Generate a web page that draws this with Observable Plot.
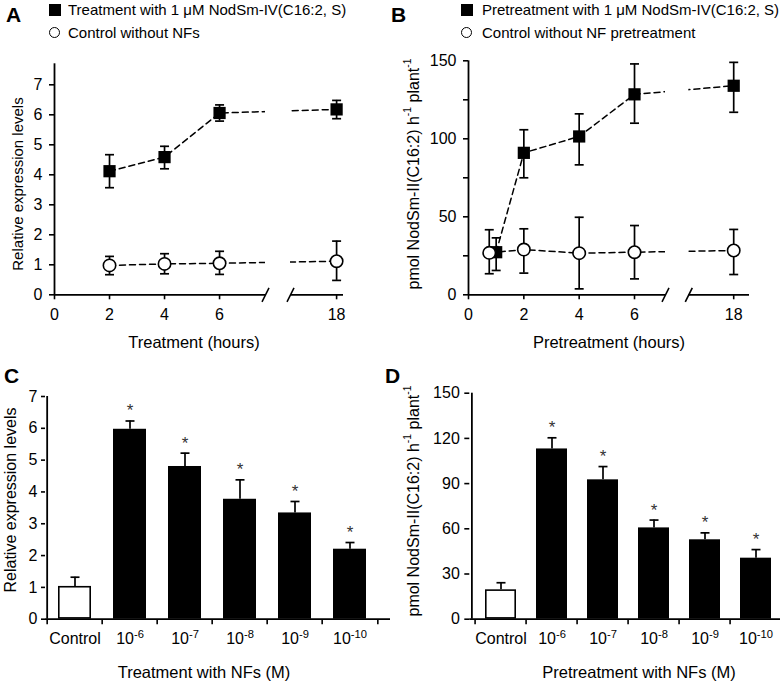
<!DOCTYPE html>
<html><head><meta charset="utf-8">
<script src="https://cdn.jsdelivr.net/npm/d3@7"></script>
<script src="https://cdn.jsdelivr.net/npm/@observablehq/plot@0.6"></script>
<style>
body{margin:0;background:#fff;font-family:"Liberation Sans",Arial,sans-serif;color:#000;}
#fig{position:relative;width:780px;height:684px;overflow:hidden;background:#fff;}
.panel{position:absolute;}
.letter{position:absolute;font-weight:bold;font-size:21px;line-height:21px;}
.legtxt{position:absolute;font-size:15px;line-height:16px;white-space:nowrap;}
.sq{position:absolute;width:12px;height:12px;background:#000;}
.ci{position:absolute;width:9px;height:9px;border:1.6px solid #000;border-radius:50%;background:#fff;}
.title{position:absolute;font-size:16.5px;line-height:18px;white-space:nowrap;transform:translate(-50%,-50%);}
.ytitle{position:absolute;font-size:16px;line-height:18px;white-space:nowrap;transform:translate(-50%,-50%) rotate(-90deg);}
.ytitle sup{font-size:0.65em;position:relative;top:-0.2em;vertical-align:super;line-height:0;}
</style>
</head><body>
<div id="fig"></div>
<script>
// ---------- Panel A data (treatment time course, relative expression) ----------
const hoursA      = [2, 4, 6, 18];
const treatA      = [4.12, 4.59, 6.06, 6.18];
const treatA_lo   = [3.57, 4.20, 5.79, 5.87];
const treatA_hi   = [4.67, 4.95, 6.33, 6.48];
const ctrlA       = [0.98, 1.03, 1.05, 1.12];
const ctrlA_lo    = [0.67, 0.70, 0.68, 0.48];
const ctrlA_hi    = [1.28, 1.37, 1.45, 1.79];
const ticksA_x    = [0, 2, 4, 6, 18];
const ticksA_y    = [0, 1, 2, 3, 4, 5, 6, 7];

// ---------- Panel B data (pretreatment time course, pmol) ----------
const hoursB_treat = [1, 2, 4, 6, 18];
const treatB       = [27.3, 91, 101.5, 128.5, 134];
const treatB_lo    = [15.6, 75, 83.3, 110, 117];
const treatB_hi    = [36.5, 105.8, 116, 148, 149];
const hoursB_ctrl  = [0.75, 2, 4, 6, 18];
const ctrlB        = [26.9, 29, 26.7, 27.3, 28.4];
const ctrlB_lo     = [13.5, 13.9, 3.8, 10.2, 13];
const ctrlB_hi     = [41.7, 42.3, 49.7, 44.4, 41.9];
const ticksB_x     = [0, 2, 4, 6, 18];
const ticksB_y     = [0, 25, 50, 75, 100, 125, 150];

// ---------- Panels C, D data (concentration series) ----------
const concLabels = ["Control", "10^-6", "10^-7", "10^-8", "10^-9", "10^-10"];
const signif     = [false, true, true, true, true, true];
const exprC      = [1.03, 5.97, 4.80, 3.77, 3.34, 2.20];
const exprC_hi   = [1.32, 6.23, 5.22, 4.38, 3.70, 2.41];
const pmolD      = [19.5, 113, 92.5, 60.6, 52.7, 40.5];
const pmolD_hi   = [24.2, 120.4, 101.3, 65.8, 57.3, 46.2];
const ticksC_y   = [0, 1, 2, 3, 4, 5, 6, 7];
const ticksD_y   = [0, 30, 60, 90, 120, 150];

// ---------- helpers ----------
const FONT = "Liberation Sans, Arial, sans-serif";
const LW = 1.7;
const capSym   = {draw(ctx){ ctx.moveTo(-4.5, 0); ctx.lineTo(4.5, 0); }};
const slashSym = {draw(ctx){ ctx.moveTo(-3.5, 7); ctx.lineTo(3.5, -7); }};
const downTick = {draw(ctx){ ctx.moveTo(0, 0); ctx.lineTo(0, 5); }};
const style = {background: "transparent", fontFamily: FONT, fontSize: "16px", color: "black", overflow: "visible"};
const fmt = d => String(d);

const rows = (xs, vs, lo, hi) => xs.map((x, i) => ({x, v: vs[i], lo: lo[i], hi: hi[i]}));

function supify(svg) {
  d3.select(svg).selectAll("text").each(function() {
    const t = this.textContent;
    const m = t.match(/^(.*)\^(.*)$/);
    if (!m) return;
    const s = d3.select(this);
    s.text(null);
    s.append("tspan").text(m[1]);
    s.append("tspan").attr("dy", "-0.5em").attr("font-size", "0.7em").text(m[2]);
  });
}

function timePanel(opts) {
  const {treat, ctrl, brk, xEnd, xRange, yMax, yTicks, yFmt, xTicks, height, mt, mb} = opts;
  return Plot.plot({
    width: 390, height, marginLeft: xRange[0], marginRight: 390 - xRange[3], marginTop: mt, marginBottom: mb,
    style,
    x: {type: "linear", domain: [0, brk[0], brk[1], xEnd], range: xRange, label: null},
    y: {domain: [0, yMax], label: null},
    marks: [
      Plot.line(treat, {x: "x", y: "v", stroke: "black", strokeWidth: 1.5, strokeDasharray: "6,4"}),
      Plot.line(ctrl, {x: "x", y: "v", stroke: "black", strokeWidth: 1.5, strokeDasharray: "6,4"}),
      Plot.rect([0], {x1: () => brk[0], x2: () => brk[1], y1: () => 0, y2: () => yMax, fill: "white"}),
      Plot.ruleY([0], {x1: () => 0, x2: () => brk[0], strokeWidth: 1.8}),
      Plot.ruleY([0], {x1: () => brk[1], x2: () => xEnd, strokeWidth: 1.8}),
      Plot.ruleX([0], {y1: () => 0, y2: () => yMax, strokeWidth: 1.8}),
      Plot.dot(brk, {x: d => d, y: () => 0, symbol: slashSym, stroke: "black", fill: "none", strokeWidth: 1.6}),
      Plot.ruleX(ctrl, {x: "x", y1: "lo", y2: "hi", strokeWidth: LW}),
      Plot.dot(ctrl, {x: "x", y: "hi", symbol: capSym, stroke: "black", fill: "none", strokeWidth: LW}),
      Plot.dot(ctrl, {x: "x", y: "lo", symbol: capSym, stroke: "black", fill: "none", strokeWidth: LW}),
      Plot.ruleX(treat, {x: "x", y1: "lo", y2: "hi", strokeWidth: LW}),
      Plot.dot(treat, {x: "x", y: "hi", symbol: capSym, stroke: "black", fill: "none", strokeWidth: LW}),
      Plot.dot(treat, {x: "x", y: "lo", symbol: capSym, stroke: "black", fill: "none", strokeWidth: LW}),
      Plot.dot(treat, {x: "x", y: "v", symbol: "square", r: 6.9, fill: "black", stroke: "none"}),
      Plot.dot(ctrl, {x: "x", y: "v", r: 6.2, fill: "white", stroke: "black", strokeWidth: 1.6}),
      Plot.axisY({ticks: yTicks, tickFormat: yFmt, tickSize: 5, tickPadding: 7, strokeWidth: 1.6, label: null}),
      Plot.axisX({ticks: xTicks, tickFormat: fmt, tickSize: 5, tickPadding: 9, strokeWidth: 1.6, label: null})
    ]
  });
}

function barPanel(opts) {
  const {vals, his, yMax, yTicks, ml, xRange, height, mt, mb, yTickSize, yTickPad} = opts;
  const data = concLabels.map((c, i) => ({c, v: vals[i], hi: his[i], s: signif[i]}));
  const step = (xRange[1] - xRange[0]) / concLabels.length;
  const axisOffset = -step / 2 - (xRange[0] - ml);
  return Plot.plot({
    width: 390, height, marginLeft: ml, marginRight: 0, marginTop: mt, marginBottom: mb,
    style,
    x: {type: "band", domain: concLabels, range: xRange, paddingInner: 0.4, paddingOuter: 0.2, label: null},
    y: {domain: [0, yMax], label: null},
    marks: [
      Plot.ruleX(data, {x: "c", y1: "v", y2: "hi", strokeWidth: LW}),
      Plot.dot(data, {x: "c", y: "hi", symbol: capSym, stroke: "black", fill: "none", strokeWidth: LW}),
      Plot.barY(data.filter(d => d.c === concLabels[0]), {x: "c", y: "v", fill: "white", stroke: "black", strokeWidth: 1.6, inset: 0.8}),
      Plot.barY(data.filter(d => d.c !== concLabels[0]), {x: "c", y: "v", fill: "black"}),
      Plot.text(data.filter(d => d.s), {x: "c", y: "hi", text: () => "*", dy: -10, fontSize: 17, fill: "#333"}),
      Plot.ruleY([0], {strokeWidth: 1.8}),
      Plot.ruleX([concLabels[0]], {x: d => d, dx: axisOffset, y1: () => 0, y2: () => yMax, strokeWidth: 1.8}),
      Plot.dot(concLabels, {x: d => d, y: () => 0, dx: -step / 2, symbol: downTick, stroke: "black", fill: "none", strokeWidth: 1.6}),
      Plot.dot([concLabels[concLabels.length - 1]], {x: d => d, y: () => 0, dx: step / 2, symbol: downTick, stroke: "black", fill: "none", strokeWidth: 1.6}),
      Plot.axisY({ticks: yTicks, tickFormat: fmt, tickSize: yTickSize, tickPadding: yTickPad, strokeWidth: 1.6, label: null}),
      Plot.axisX({tickSize: 0, tickPadding: 13, label: null})
    ]
  });
}

const fig = document.getElementById("fig");
function place(el, left, top) {
  el.classList.add("panel");
  el.style.left = left + "px";
  el.style.top = top + "px";
  fig.appendChild(el);
  supify(el);
}

place(timePanel({
  treat: rows(hoursA, treatA, treatA_lo, treatA_hi),
  ctrl: rows(hoursA, ctrlA, ctrlA_lo, ctrlA_hi),
  brk: [7.67, 16.33], xEnd: 18.25, xRange: [54, 265, 290, 343],
  yMax: 7.7, yTicks: ticksA_y, yFmt: fmt, xTicks: ticksA_x,
  height: 345, mt: 63.3, mb: 50.7
}), 0, 0);

place(timePanel({
  treat: rows(hoursB_treat, treatB, treatB_lo, treatB_hi),
  ctrl: rows(hoursB_ctrl, ctrlB, ctrlB_lo, ctrlB_hi),
  brk: [7.12, 16.38], xEnd: 18.57, xRange: [78, 275, 298.3, 359],
  yMax: 150, yTicks: ticksB_y, yFmt: d => (d % 50 === 0 ? String(d) : ""), xTicks: ticksB_x,
  height: 345, mt: 60.3, mb: 50.7
}), 390, 0);

place(barPanel({
  vals: exprC, his: exprC_hi, yMax: 7, yTicks: ticksC_y,
  ml: 45, xRange: [45, 379], height: 339, mt: 51, mb: 65.3, yTickSize: 4, yTickPad: 4
}), 0, 345);

place(barPanel({
  vals: pmolD, his: pmolD_hi, yMax: 150, yTicks: ticksD_y,
  ml: 79.3, xRange: [82.5, 393.5], height: 339, mt: 47.7, mb: 65.3, yTickSize: 5, yTickPad: 5
}), 390, 345);

// ---------- text overlays: panel letters, legends, axis titles ----------
function add(cls, html, css) {
  const d = document.createElement("div");
  d.className = cls;
  d.innerHTML = html;
  Object.assign(d.style, css);
  fig.appendChild(d);
}
add("letter", "A", {left: "6px", top: "4px"});
add("letter", "B", {left: "391px", top: "4px"});
add("letter", "C", {left: "4px", top: "365px"});
add("letter", "D", {left: "385px", top: "365px"});

add("sq", "", {left: "49px", top: "4px"});
add("legtxt", "Treatment with 1 μM NodSm-IV(C16:2, S)", {left: "68px", top: "2px"});
add("ci", "", {left: "49px", top: "27px"});
add("legtxt", "Control without NFs", {left: "68px", top: "25px"});
add("sq", "", {left: "461px", top: "4px"});
add("legtxt", "Pretreatment with 1 μM NodSm-IV(C16:2, S)", {left: "482px", top: "2px"});
add("ci", "", {left: "461px", top: "27px"});
add("legtxt", "Control without NF pretreatment", {left: "482px", top: "25px"});

add("title", "Treatment (hours)", {left: "194px", top: "342px"});
add("title", "Pretreatment (hours)", {left: "609px", top: "342px"});
add("title", "Treatment with NFs (M)", {left: "204px", top: "672px"});
add("title", "Pretreatment with NFs (M)", {left: "639px", top: "672px"});

add("ytitle", "Relative expression levels", {left: "18px", top: "184px", fontSize: "15px"});
add("ytitle", "pmol NodSm-II(C16:2) h<sup>-1</sup> plant<sup>-1</sup>", {left: "414px", top: "174px"});
add("ytitle", "Relative expression levels", {left: "11px", top: "500px"});
add("ytitle", "pmol NodSm-II(C16:2) h<sup>-1</sup> plant<sup>-1</sup>", {left: "414px", top: "501px"});
</script>
</body></html>
